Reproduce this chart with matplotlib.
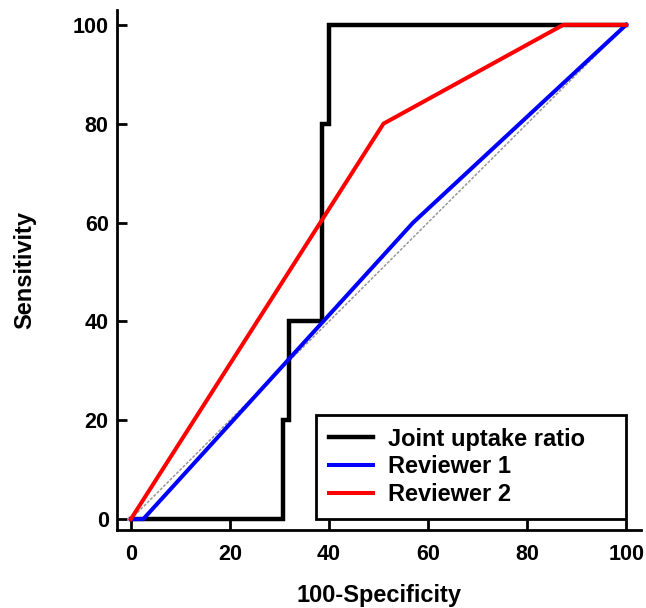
import matplotlib
matplotlib.use("Agg")
import matplotlib.pyplot as plt

plt.rcParams['font.family'] = ['Liberation Sans', 'DejaVu Sans']

# Data (100-Specificity, Sensitivity)
joint_x = [0, 30.8, 30.8, 32, 32, 38.5, 38.5, 40, 40, 100]
joint_y = [0, 0, 20, 20, 40, 40, 80, 80, 100, 100]
rev1_x = [0, 2.5, 57, 100]
rev1_y = [0, 0, 60, 100]
rev2_x = [0, 51, 87.3, 100]
rev2_y = [0, 80, 100, 100]
diag = [0, 100]
ticks = [0, 20, 40, 60, 80, 100]

fig = plt.figure(figsize=(6.46, 6.08), dpi=100)
ax = fig.add_axes([117/646, 1-530/608, (641-117)/646, (530-10)/608])

ax.plot(diag, diag, color='#999999', lw=1.1, ls=(0, (2, 1)), zorder=1)
ax.plot(joint_x, joint_y, color='black', lw=3.2, label='Joint uptake ratio', zorder=2,
        solid_joinstyle='miter')
ax.plot(rev1_x, rev1_y, color='#0000ff', lw=2.9, label='Reviewer 1', zorder=3)
ax.plot(rev2_x, rev2_y, color='#ff0000', lw=2.9, label='Reviewer 2', zorder=4)

ax.set_xlim(-2.8, 103)
ax.set_ylim(-2.2, 103)
ax.set_xticks(ticks)
ax.set_yticks(ticks)
for s in ['top', 'right']:
    ax.spines[s].set_visible(False)
for s in ['left', 'bottom']:
    ax.spines[s].set_linewidth(2)
ax.tick_params(direction='in', length=7, width=2, labelsize=15.5)
ax.tick_params(axis='x', pad=10)
ax.tick_params(axis='y', pad=6)
for lab in ax.get_xticklabels() + ax.get_yticklabels():
    lab.set_fontweight('bold')

ax.set_xlabel('100-Specificity', fontsize=17, fontweight='bold', labelpad=14)
ax.set_ylabel('Sensitivity', fontsize=17, fontweight='bold', labelpad=26)

leg = ax.legend(loc='lower left', bbox_to_anchor=(37.4, 0, 62.6, 20), bbox_transform=ax.transData,
                mode='expand', borderaxespad=0, fancybox=False, framealpha=1, edgecolor='black',
                prop={'weight': 'bold', 'size': 17}, handlelength=1.85, handletextpad=0.65,
                labelspacing=0.2, borderpad=0.55)
leg.get_frame().set_linewidth(2)

fig.savefig('out.png', dpi=100)
